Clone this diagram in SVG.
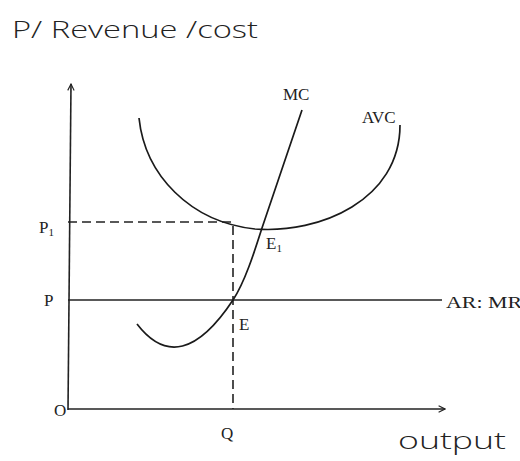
<svg xmlns="http://www.w3.org/2000/svg" width="520" height="461" viewBox="0 0 520 461">
<defs>
<style>
.ax{stroke:#222;stroke-width:1.6;fill:none}
.cv{stroke:#1a1a1a;stroke-width:1.7;fill:none}
.ds{stroke:#222;stroke-width:1.6;fill:none;stroke-dasharray:9 5}
.lb{font-family:"Liberation Serif",serif;fill:#222}
.hw{font-family:"Open Sans","Liberation Sans",sans-serif;fill:#222;font-weight:300}
</style>
<marker id="ah" viewBox="0 0 10 10" refX="9" refY="5" markerWidth="8" markerHeight="8" orient="auto" markerUnits="userSpaceOnUse">
<path d="M1,1 L9,5 L1,9" fill="none" stroke="#222" stroke-width="1.4"/>
</marker>
</defs>
<rect width="520" height="461" fill="#ffffff"/>
<g id="axes">
<path class="ax" d="M68,410 L71,84" marker-end="url(#ah)"/>
<path class="ax" d="M68,409 L445,409" marker-end="url(#ah)"/>
</g>
<g id="connectors">
<path class="ds" d="M68,222 L233,222"/>
<path class="ds" d="M233,226 L233,409"/>
<path class="ax" d="M68,300 L442,300"/>
</g>
<g id="avc">
<path class="cv" d="M139,118 C145,175 190,222 255,229 C320,234 400,200 400,125"/>
</g>
<g id="mc">
<path class="cv" d="M137,324 Q180,380 233,300 C245,282 255,250 262,228 C275,190 290,145 302,110"/>
</g>
<g id="labels">
<text class="hw" x="12" y="38" font-size="24" textLength="246" lengthAdjust="spacingAndGlyphs">P/ Revenue /cost</text>
<text class="lb" x="283" y="100" font-size="17">MC</text>
<text class="lb" x="362" y="123" font-size="17">AVC</text>
<text class="lb" x="39" y="233" font-size="17">P<tspan font-size="11" dy="3">1</tspan></text>
<text class="lb" x="44" y="306" font-size="17">P</text>
<text class="lb" x="266" y="249" font-size="17">E<tspan font-size="11" dy="3">1</tspan></text>
<text class="lb" x="239" y="330" font-size="17">E</text>
<text class="lb" x="446" y="308" font-size="16" textLength="76" lengthAdjust="spacingAndGlyphs">AR: MR</text>
<text class="lb" x="54" y="416" font-size="17">O</text>
<text class="lb" x="221" y="439" font-size="17">Q</text>
<text class="hw" x="398" y="449" font-size="24" textLength="108" lengthAdjust="spacingAndGlyphs">output</text>
</g>
</svg>
